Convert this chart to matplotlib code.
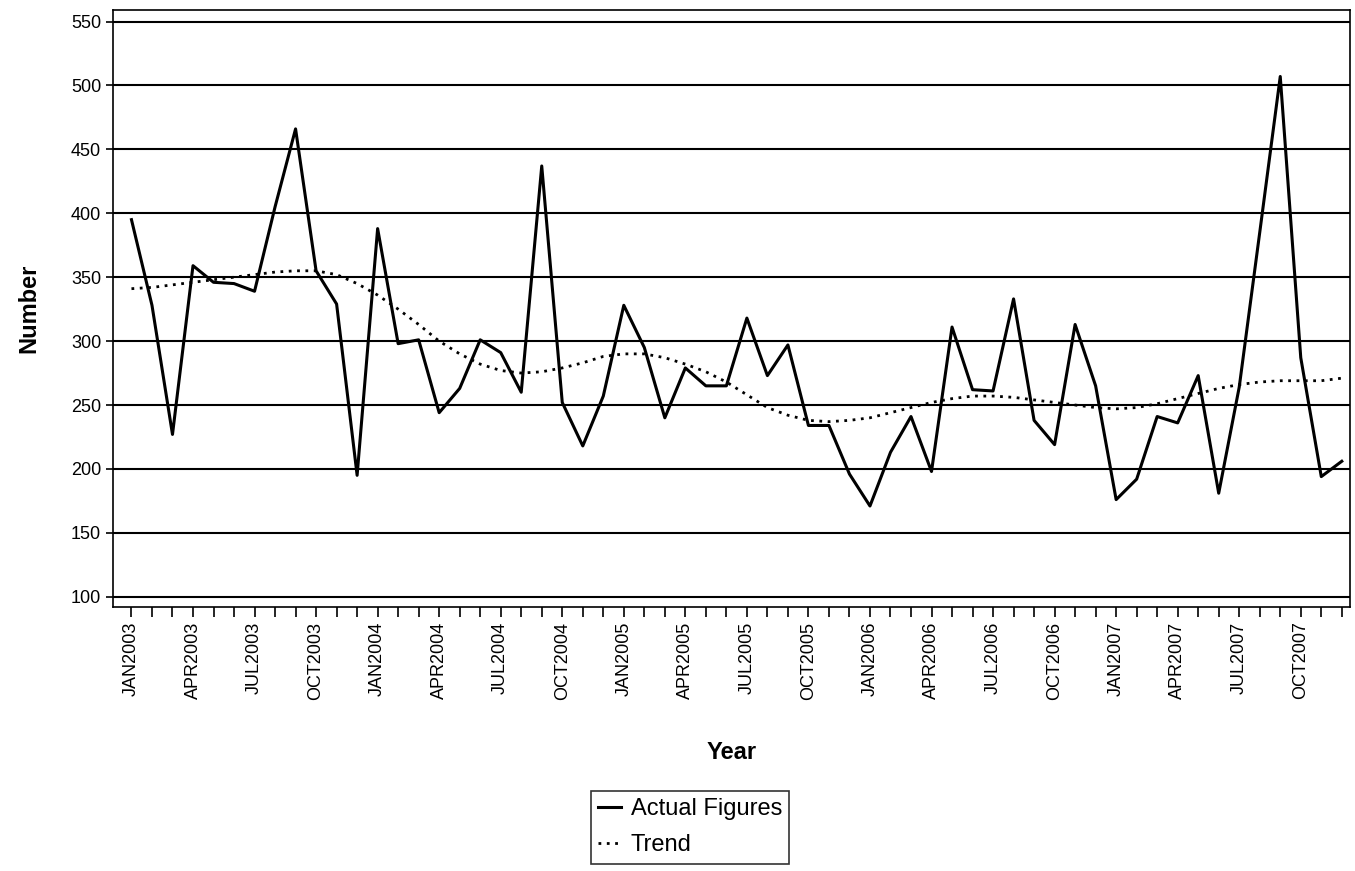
import matplotlib
matplotlib.use("Agg")
import matplotlib.pyplot as plt

plt.rcParams["font.family"] = ["Liberation Sans", "DejaVu Sans"]

months = ["JAN", "FEB", "MAR", "APR", "MAY", "JUN", "JUL", "AUG", "SEP", "OCT", "NOV", "DEC"]
years = [2003, 2004, 2005, 2006, 2007]
labels = [f"{m}{y}" for y in years for m in months]

actual = [395, 328, 227, 359, 346, 345, 339, 405, 466, 355, 329, 195,
          388, 298, 301, 244, 263, 301, 291, 260, 437, 252, 218, 257,
          328, 295, 240, 279, 265, 265, 318, 273, 297, 234, 234, 196,
          171, 213, 241, 198, 311, 262, 261, 333, 238, 219, 313, 265,
          176, 192, 241, 236, 273, 181, 264, 385, 507, 287, 194, 206]

trend = [341, 342, 344, 346, 348, 350, 352, 354, 355, 355, 352, 345,
         336, 325, 313, 300, 290, 282, 277, 275, 276, 279, 283, 288,
         290, 290, 287, 282, 276, 268, 258, 248, 242, 238, 237, 238,
         240, 244, 248, 252, 255, 257, 257, 256, 254, 252, 250, 248,
         247, 248, 251, 255, 259, 263, 266, 268, 269, 269, 269, 271]

x = list(range(len(labels)))

fig = plt.figure(figsize=(13.55, 8.71), dpi=100)
ax = fig.add_axes([113 / 1355, 1 - 607 / 871, (1350 - 113) / 1355, (607 - 10) / 871])

for v in range(100, 551, 50):
    ax.axhline(v, color="black", lw=1.5, zorder=1)

ax.plot(x, actual, color="black", lw=2.2, label="Actual Figures", zorder=3)
ax.plot(x, trend, color="black", lw=2, ls=(0, (1, 2)), label="Trend", zorder=2)

ax.set_xlim(-0.9, len(x) - 0.6)
ax.set_ylim(92, 559)
ax.set_yticks(range(100, 551, 50))
ax.set_xticks(x)
ax.set_xticklabels([l if i % 3 == 0 else "" for i, l in enumerate(labels)], rotation=90, fontsize=13)
ax.tick_params(axis="x", direction="out", length=7, width=1.2)
ax.tick_params(axis="y", direction="out", length=5, width=1.2, labelsize=13)
for s in ax.spines.values():
    s.set_linewidth(1.2)

ax.set_xlabel("Year", fontsize=17, fontweight="bold", labelpad=30)
ax.set_ylabel("Number", fontsize=17, fontweight="bold", labelpad=22)

leg = fig.legend(loc="lower center", bbox_to_anchor=(690 / 1355, -0.005), fontsize=17,
                 frameon=True, fancybox=False, edgecolor="black", handlelength=1.0,
                 handletextpad=0.4, borderpad=0.3, labelspacing=0.6)
leg.get_frame().set_linewidth(1.2)

fig.savefig("out.png", dpi=100)
